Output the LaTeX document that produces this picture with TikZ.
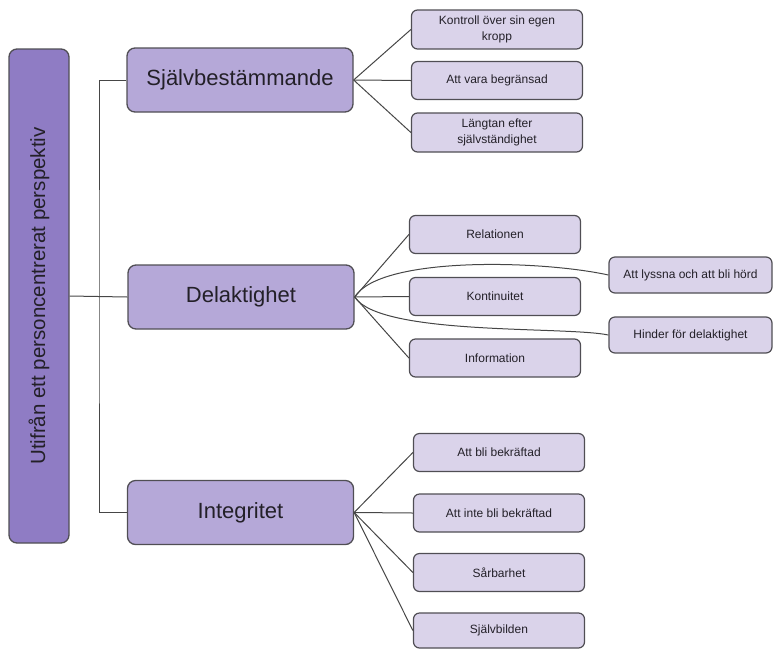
\documentclass[tikz,border=0pt]{standalone}
\usepackage{fontspec}
\setmainfont{Liberation Sans}
\usetikzlibrary{calc}

\definecolor{rotlila}{RGB}{143,124,196}
\definecolor{huvudlila}{RGB}{181,168,216}
\definecolor{bladlila}{RGB}{218,211,234}
\definecolor{kant}{RGB}{80,78,84}
\definecolor{linje}{RGB}{70,70,70}
\definecolor{text}{RGB}{35,32,40}

\begin{document}
\begin{tikzpicture}[
    x=1pt, y=-1pt,
    % Stilar for rutorna
    rot/.style={draw=kant, line width=1.3pt, fill=rotlila, rounded corners=8pt,
        rotate=90, minimum width=494pt, minimum height=60pt, inner sep=0pt,
        text=text, font=\fontsize{20.5}{24}\selectfont},
    huvud/.style={draw=kant, line width=1.3pt, fill=huvudlila, rounded corners=8pt,
        minimum width=226pt, minimum height=64pt, inner sep=0pt,
        text=text, font=\fontsize{22}{26}\selectfont},
    blad/.style={draw=kant, line width=1.2pt, fill=bladlila, rounded corners=6pt,
        minimum width=171pt, minimum height=38pt, inner sep=0pt, align=center,
        text=text, font=\fontsize{12}{15.5}\selectfont},
    gren/.style={draw=linje, line width=1pt}
]
    \useasboundingbox (0,0) rectangle (774,649);

    % Rot och huvudteman
    \node[rot] (rot) at (39,296) {Utifrån ett personcentrerat perspektiv};
    \node[huvud] (sjalv) at (240,80) {Självbestämmande};
    \node[huvud] (delak) at (241,297) {Delaktighet};
    \node[huvud] (integ) at (240.5,512.5) {Integritet};

    % Subteman under Självbestämmande
    \node[blad, minimum height=39pt] (kontroll) at (497,29.5) {Kontroll över sin egen\\kropp};
    \node[blad] (begr) at (497,80.5) {Att vara begränsad};
    \node[blad, minimum height=39pt] (langtan) at (497,132.5) {Längtan efter\\självständighet};

    % Subteman under Delaktighet
    \node[blad] (rel) at (495,234.5) {Relationen};
    \node[blad] (kont) at (495,296.5) {Kontinuitet};
    \node[blad] (info) at (495,358) {Information};
    \node[blad, minimum width=163pt, minimum height=36pt] (lyssna) at (690.5,275) {Att lyssna och att bli hörd};
    \node[blad, minimum width=163pt, minimum height=36pt] (hinder) at (690.5,335) {Hinder för delaktighet};

    % Subteman under Integritet
    \node[blad] (bekr) at (499,452.5) {Att bli bekräftad};
    \node[blad] (intebekr) at (499,513) {Att inte bli bekräftad};
    \node[blad] (sarb) at (499,572.5) {Sårbarhet};
    \node[blad, minimum height=35pt] (bild) at (499,630.5) {Självbilden};

    % Stammen fran roten
    \coordinate (stam) at (99,297);
    \draw[gren] (rot.south) -- (delak.west);
    \draw[gren] (sjalv.west) -| (stam) |- (integ.west);

    % Grenar till subteman
    \foreach \b in {kontroll,begr,langtan}
        \draw[gren] (sjalv.east) -- (\b.west);
    \foreach \b in {rel,kont,info}
        \draw[gren] (delak.east) -- (\b.west);
    \foreach \b in {bekr,intebekr,sarb,bild}
        \draw[gren] (integ.east) -- (\b.west);

    % Bojda grenar till de yttre rutorna
    \draw[gren] (delak.east) .. controls (380,256) and (540,260) .. (lyssna.west);
    \draw[gren] (delak.east) .. controls (380,336) and (565,326) .. (hinder.west);
\end{tikzpicture}
\end{document}
